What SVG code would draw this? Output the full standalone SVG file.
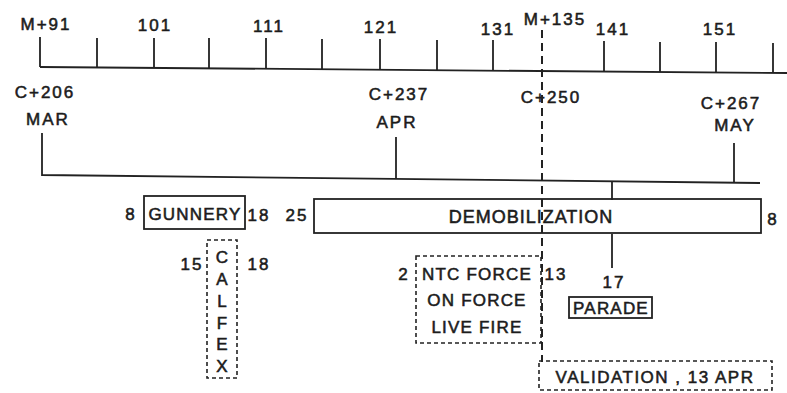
<svg xmlns="http://www.w3.org/2000/svg" width="787" height="393" viewBox="0 0 787 393">
<style>
  text { font-family: "Liberation Sans", Arial, sans-serif; fill: #1c1c1c; stroke: #1c1c1c; stroke-width: 0.55px; font-size: 17px; letter-spacing: 2px; text-anchor: middle; }
  .lbl { letter-spacing: 1.2px; }
  .ln { stroke: #222; stroke-width: 1.8; fill: none; }
  .box { stroke: #222; stroke-width: 1.8; fill: none; }
  .dbox { stroke: #222; stroke-width: 1.6; fill: none; stroke-dasharray: 4 3; }
  .dline { stroke: #222; stroke-width: 2; fill: none; stroke-dasharray: 8 5; }
</style>
<rect width="787" height="393" fill="#fff"/>

<g id="axis-top">
  <path class="ln" d="M40 67 L787 73"/>
  <path class="ln" d="M40 37 V67 M97 38 V67.5 M154 38 V68 M209 38 V68.5 M266 38 V69 M322 39 V69.5 M380 39 V70 M437 40 V70.5 M493 40 V71 M604 41 V71.5 M660 42 V72 M716 42 V72.5 M773 43 V73"/>
  <text x="46" y="30">M+91</text>
  <text x="155" y="31">101</text>
  <text x="269" y="32">111</text>
  <text x="381" y="33">121</text>
  <text x="498" y="35">131</text>
  <text x="555" y="25">M+135</text>
  <text x="613" y="35">141</text>
  <text x="720" y="35">151</text>
</g>

<g id="month-line">
  <path class="ln" d="M42 133 V175 L760 183"/>
  <path class="ln" d="M396 137 V179"/>
  <path class="ln" d="M734 143 V183"/>
  <text x="45" y="98">C+206</text>
  <text x="48" y="125">MAR</text>
  <text x="399" y="100">C+237</text>
  <text x="397" y="128">APR</text>
  <text x="551" y="103">C+250</text>
  <text x="731" y="109">C+267</text>
  <text x="735" y="131">MAY</text>
</g>

<g id="connectors">
  <path class="ln" d="M612 182 V200"/>
  <path class="ln" d="M612 234 V268"/>
  <path class="dline" d="M542 30 V362"/>
</g>

<g id="gunnery">
  <rect class="box" x="144" y="196" width="101" height="33"/>
  <text class="lbl" x="195" y="220">GUNNERY</text>
  <text x="131" y="220">8</text>
  <text x="259" y="221">18</text>
</g>

<g id="demobilization">
  <rect class="box" x="314" y="199" width="447" height="34"/>
  <text x="531" y="223" style="letter-spacing:1px;font-size:18px">DEMOBILIZATION</text>
  <text x="297" y="221">25</text>
  <text x="773" y="225">8</text>
</g>

<g id="calfex">
  <rect class="dbox" x="207" y="240" width="30" height="138"/>
  <text x="222" y="263" style="letter-spacing:0">C</text>
  <text x="222" y="285" style="letter-spacing:0">A</text>
  <text x="222" y="307" style="letter-spacing:0">L</text>
  <text x="222" y="329" style="letter-spacing:0">F</text>
  <text x="222" y="350" style="letter-spacing:0">E</text>
  <text x="222" y="372" style="letter-spacing:0">X</text>
  <text x="192" y="270">15</text>
  <text x="259" y="270">18</text>
</g>

<g id="ntc">
  <rect class="dbox" x="416" y="256" width="125" height="87"/>
  <text class="lbl" x="477" y="280">NTC FORCE</text>
  <text class="lbl" x="477" y="306">ON FORCE</text>
  <text class="lbl" x="477" y="333">LIVE FIRE</text>
  <text x="404" y="280">2</text>
  <text x="556" y="280">13</text>
</g>

<g id="parade">
  <text x="614" y="288">17</text>
  <rect class="box" x="569" y="297" width="83" height="21" stroke-width="2.2"/>
  <text class="lbl" x="611" y="314">PARADE</text>
</g>

<g id="validation">
  <rect class="dbox" x="539" y="361" width="233" height="29"/>
  <text x="655" y="383" style="letter-spacing:1.5px">VALIDATION , 13 APR</text>
</g>
</svg>
